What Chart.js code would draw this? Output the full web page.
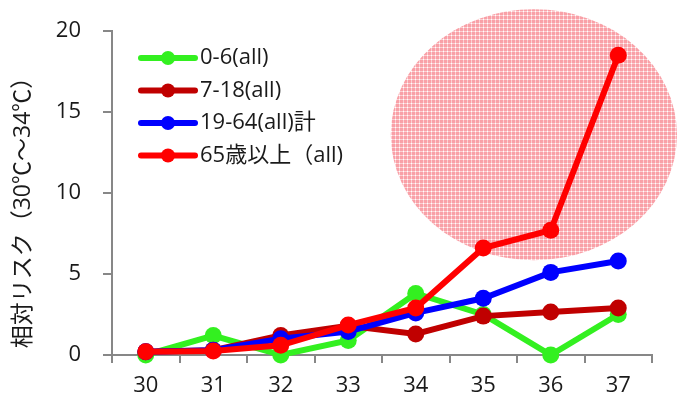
<!DOCTYPE html>
<html>
<head>
<meta charset="utf-8">
<script src="https://cdn.jsdelivr.net/npm/chart.js@4/dist/chart.umd.min.js"></script>
<style>
  html, body { margin: 0; padding: 0; background: #fff; }
  #wrap { width: 677px; height: 401px; position: relative; }
</style>
</head>
<body>
<div id="wrap"><canvas id="c" width="677" height="401"></canvas></div>
<script>
// Temperature categories (℃)
const temps = ['30', '31', '32', '33', '34', '35', '36', '37'];

// Relative risk by age group
const age0to6   = [0.0, 1.2, 0.0, 0.9, 3.8, 2.5, 0.0, 2.5];
const age7to18  = [0.2, 0.3, 1.2, 1.8, 1.3, 2.4, 2.65, 2.9];
const age19to64 = [0.2, 0.3, 1.0, 1.45, 2.6, 3.5, 5.1, 5.8];
const age65up   = [0.2, 0.25, 0.6, 1.85, 2.9, 6.6, 7.7, 18.5];

const seriesLabels = ['0-6(all)', '7-18(all)', '19-64(all)計', '65歳以上（all)'];
const seriesColors = ['#33f020', '#c00000', '#0000ff', '#ff0000'];

const yTicks = [0, 5, 10, 15, 20];
const yTitle = '相対リスク（30℃～34℃）';

// Highlight ellipse, in data units: centre (category index, value) and radii
const highlightCentre = [5.75, 13.6];
const highlightRadii = [2.12, 7.75];

const FONT = "'Open Sans', 'Noto Sans CJK JP', sans-serif";
const TEXT = '#1a1a1a';
const AXIS_GREY = '#878787';

function makeHatch() {
  const t = document.createElement('canvas');
  t.width = 4; t.height = 4;
  const g = t.getContext('2d');
  g.fillStyle = '#ffffff';
  g.fillRect(0, 0, 4, 4);
  g.fillStyle = 'rgb(249,160,167)';
  g.fillRect(0, 0, 3, 3);
  g.fillStyle = 'rgb(252,208,211)';
  g.fillRect(3, 0, 1, 3);
  g.fillRect(0, 3, 3, 1);
  return t;
}

const highlightPlugin = {
  id: 'highlight',
  beforeDatasetsDraw(chart) {
    const { ctx, scales: { x, y } } = chart;
    const x0 = x.getPixelForValue(0), x1 = x.getPixelForValue(1);
    const step = x1 - x0;
    const cx = x0 + highlightCentre[0] * step;
    const cy = y.getPixelForValue(highlightCentre[1]);
    const rx = highlightRadii[0] * step;
    const ry = Math.abs(y.getPixelForValue(highlightRadii[1]) - y.getPixelForValue(0));
    ctx.save();
    ctx.beginPath();
    ctx.ellipse(cx, cy, rx, ry, 0, 0, Math.PI * 2);
    ctx.fillStyle = ctx.createPattern(makeHatch(), 'repeat');
    ctx.fill();
    ctx.restore();
  }
};

const legendPlugin = {
  id: 'lineLegend',
  afterDatasetsDraw(chart) {
    const { ctx } = chart;
    const left = 141, lineLen = 54, top = 58, rowH = 32.5;
    ctx.save();
    chart.data.datasets.forEach((ds, i) => {
      const yy = top + i * rowH;
      ctx.strokeStyle = ds.borderColor;
      ctx.lineWidth = 6;
      ctx.lineCap = 'round';
      ctx.beginPath();
      ctx.moveTo(left, yy);
      ctx.lineTo(left + lineLen, yy);
      ctx.stroke();
      ctx.fillStyle = ds.borderColor;
      ctx.beginPath();
      ctx.arc(left + lineLen / 2, yy, 7, 0, Math.PI * 2);
      ctx.fill();
      ctx.fillStyle = TEXT;
      ctx.font = '22px ' + FONT;
      ctx.textBaseline = 'middle';
      ctx.textAlign = 'left';
      ctx.fillText(ds.label, left + lineLen + 5, yy);
    });
    ctx.restore();
  }
};

// Axis numbers and the rotated axis title
const axisTextPlugin = {
  id: 'axisText',
  afterDraw(chart) {
    const { ctx, scales: { y } } = chart;
    ctx.save();
    ctx.fillStyle = TEXT;
    ctx.font = '22px ' + FONT;
    ctx.textAlign = 'right';
    ctx.textBaseline = 'middle';
    yTicks.forEach(v => ctx.fillText(String(v), y.left + 81, y.getPixelForValue(v)));
    ctx.translate(23, 207);
    ctx.rotate(-Math.PI / 2);
    ctx.font = '23px ' + FONT;
    ctx.textAlign = 'center';
    ctx.fillText(yTitle, 0, 0);
    ctx.restore();
  }
};

const seriesData = [age0to6, age7to18, age19to64, age65up];
const datasets = seriesData.map((d, i) => ({
  label: seriesLabels[i],
  data: d,
  borderColor: seriesColors[i],
  backgroundColor: seriesColors[i],
  borderWidth: 6,
  pointRadius: 8.5,
  pointHoverRadius: 8.5,
  pointBorderWidth: 0,
  tension: 0,
  order: 4 - i,
  clip: false
}));

new Chart(document.getElementById('c'), {
  type: 'line',
  data: { labels: temps, datasets },
  plugins: [highlightPlugin, legendPlugin, axisTextPlugin],
  options: {
    responsive: false,
    animation: false,
    devicePixelRatio: 1,
    layout: { padding: { top: 31, right: 25, left: 0, bottom: 0 } },
    plugins: { legend: { display: false }, tooltip: { enabled: false } },
    scales: {
      x: {
        offset: true,
        grid: {
          offset: true, drawOnChartArea: false, drawTicks: true,
          tickLength: 8, color: AXIS_GREY, lineWidth: 2
        },
        border: { color: AXIS_GREY, width: 2 },
        ticks: { color: TEXT, font: { family: FONT, size: 22 }, padding: 10 },
        afterFit(s) { s.height = 46; }
      },
      y: {
        min: 0, max: 20,
        afterBuildTicks(s) { s.ticks = yTicks.map(v => ({ value: v })); },
        grid: {
          drawOnChartArea: false, drawTicks: true,
          tickLength: 9, color: AXIS_GREY, lineWidth: 2
        },
        border: { color: AXIS_GREY, width: 2 },
        ticks: { display: false },
        afterFit(s) { s.width = 112; }
      }
    }
  }
});
</script>
</body>
</html>
